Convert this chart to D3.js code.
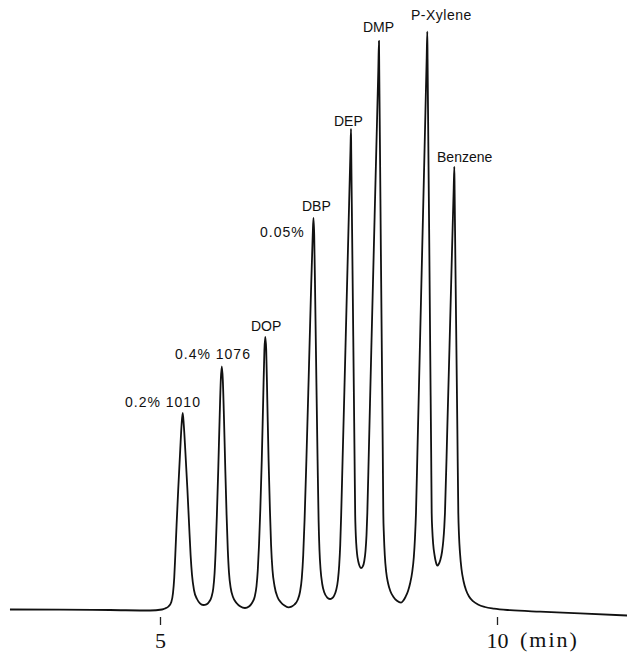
<!DOCTYPE html>
<html>
<head>
<meta charset="utf-8">
<script src="https://cdn.jsdelivr.net/npm/d3@7"></script>
<style>
  html, body { margin: 0; padding: 0; background: #fff; }
  svg { display: block; }
</style>
</head>
<body>
<svg id="chart"></svg>
<script>
// retention time (min) of the recorder trace, one row per stretch
const traceTime = [
  2.774, 3.516, 4.258, 4.852,                                                   // baseline
  5.030, 5.074, 5.126, 5.168, 5.193, 5.211, 5.227, 5.246, 5.270, 5.300, 5.320,  // 1010 up
  5.337, 5.353, 5.375, 5.407, 5.432, 5.454, 5.475, 5.504, 5.549, 5.593, 5.642,  // 1010 down
  5.690, 5.727, 5.764, 5.791, 5.810, 5.826, 5.844, 5.864, 5.884, 5.902,         // 1076 up
  5.917, 5.932, 5.950, 5.969, 5.988, 6.006, 6.024, 6.049, 6.083, 6.135, 6.194, 6.261,
  6.320, 6.365, 6.404, 6.432, 6.451, 6.469, 6.488, 6.510, 6.531, 6.549,         // DOP up
  6.562, 6.576, 6.592, 6.611, 6.631, 6.648, 6.669, 6.699, 6.743, 6.795, 6.847, 6.904,
  6.951, 6.996, 7.042, 7.077, 7.104, 7.125, 7.145, 7.172, 7.205, 7.237, 7.266,  // DBP up
  7.277, 7.288, 7.303, 7.320, 7.338, 7.353, 7.366, 7.383, 7.407, 7.438, 7.478, 7.522,
  7.552, 7.582, 7.614, 7.640, 7.659, 7.674, 7.688, 7.709, 7.736, 7.766, 7.796, 7.826, // DEP up
  7.834, 7.837, 7.850, 7.863, 7.876, 7.887, 7.896, 7.902, 7.911, 7.924, 7.942, 7.961, 7.982,
  8.009, 8.031, 8.049, 8.064, 8.076, 8.099, 8.135, 8.172, 8.209, 8.239,         // DMP up
  8.249, 8.253, 8.264, 8.277, 8.291, 8.305, 8.313, 8.322, 8.335, 8.356, 8.383, 8.420, 8.464, 8.516, 8.576,
  8.608, 8.642, 8.680, 8.712, 8.742, 8.766, 8.783, 8.798, 8.820, 8.855, 8.890, 8.925, 8.956, // P-Xylene up
  8.966, 8.970, 8.982, 8.996, 9.009, 9.023, 9.031, 9.040, 9.053, 9.073, 9.093, 9.114,
  9.136, 9.159, 9.184, 9.203, 9.218, 9.228, 9.262, 9.294, 9.325, 9.357,         // Benzene up
  9.367, 9.371, 9.384, 9.398, 9.412, 9.426, 9.436, 9.451, 9.473, 9.503, 9.540, 9.585,
  9.644, 9.718, 9.822, 9.955, 10.193, 10.638, 11.232, 11.929                    // tail
]
// detector response (arbitrary units) at each time above
const traceSignal = [
  0.5, 0.3, 0, -0.5,
  0.5, 1.5, 3.5, 8, 17, 32, 55, 85, 120, 160, 185,
  197, 185, 160, 120, 85, 55, 35, 20, 11, 6.7, 5,
  5.7, 8, 13, 22, 37, 60, 95, 140, 190, 230,
  243.5, 230, 190, 140, 95, 60, 37, 22, 13, 7, 3.4, 2,
  3.5, 7, 13, 24, 40, 65, 100, 150, 210, 260,
  273, 260, 210, 150, 100, 65, 40, 24, 13, 7.5, 4.4, 2.7,
  3.4, 5.5, 10, 18, 32, 55, 90, 150, 230, 310, 375,
  392, 375, 310, 230, 150, 90, 60, 40, 26, 17.5, 12.7, 11,
  11.7, 14.2, 20, 30, 45, 65, 95, 150, 220, 300, 380, 460,
  481, 460, 380, 300, 220, 150, 95, 80, 67, 56, 48.5, 44, 42,
  43.7, 49, 59, 75, 97, 160, 260, 360, 460, 540,
  569, 540, 460, 360, 260, 160, 97, 75, 55, 38, 27, 18.5, 13, 9.2, 7.3,
  9.2, 13, 19, 27, 38, 53, 72, 97, 160, 260, 360, 460, 550,
  578.3, 550, 460, 360, 260, 160, 97, 80, 66, 55, 48, 44.3,
  46, 50, 58, 69, 83, 97, 180, 260, 340, 420,
  443.3, 420, 340, 260, 180, 97, 75, 57, 41, 29, 20, 13.5,
  8.8, 5.5, 3, 1.4, -0.2, -1.7, -3.3, -5.5
]

// peak annotations
const peakLabels = ['0.2% 1010', '0.4% 1076', 'DOP', '0.05%', 'DBP', 'DEP', 'DMP', 'P-Xylene', 'Benzene']
const peakTimes = [5.337, 5.917, 6.562, 7.277, 7.277, 7.834, 8.249, 8.966, 9.367]
const peakHeights = [197, 243.5, 273, 392, 392, 481, 569, 578.3, 443.3]

const tickValues = [5, 10]
const timeUnit = '(min)'

const width = 627
const height = 652

const svg = d3.select('#chart')
  .attr('width', width)
  .attr('height', height)

svg.append('rect')
  .attr('width', width)
  .attr('height', height)
  .attr('fill', '#fff')

// 5 min sits at 160px, 10 min at 497px
const x = d3.scaleLinear().domain([5, 10]).range([160, 497])
const y = d3.scaleLinear().domain([0, 600]).range([610, 10])

const trace = traceTime.map((t, i) => ({ t: t, s: traceSignal[i] }))

const line = d3.line()
  .x(d => x(d.t))
  .y(d => y(d.s))
  .curve(d3.curveMonotoneX)

svg.append('path')
  .datum(trace)
  .attr('d', line)
  .attr('fill', 'none')
  .attr('stroke', '#111')
  .attr('stroke-width', 1.8)
  .attr('stroke-linejoin', 'round')

// time axis -- only the tick marks and numbers, the baseline is the trace itself
const axis = svg.append('g')
  .attr('transform', 'translate(0,617)')
  .call(d3.axisBottom(x).tickValues(tickValues).tickSize(8).tickFormat(d3.format('d')))

axis.select('.domain').remove()
axis.selectAll('.tick line').attr('stroke', '#222').attr('stroke-width', 1.3)
axis.selectAll('.tick text')
  .attr('y', 15)
  .attr('fill', '#111')
  .style('font-family', '"Liberation Serif", "DejaVu Serif", serif')
  .style('font-size', '22px')

svg.append('text')
  .attr('x', x(10) + 23)
  .attr('y', 647)
  .attr('fill', '#111')
  .style('font-family', '"Liberation Serif", "DejaVu Serif", serif')
  .style('font-size', '22px')
  .style('letter-spacing', '2px')
  .text(timeUnit)

// label offsets from each peak apex (dx, dy, letter spacing)
const labelOffsets = [
  [-57.7, -6.5, 1], [-46.8, -7.5, 1], [-14.3, -6.3, 0], [-53.5, 18.7, 1],
  [-11.5, -7.3, 0], [-17, -3.5, 0], [-16, -9.3, 0], [-16.3, -12.2, 0.5], [-17.3, -5.2, 0]
]

svg.selectAll('.peak-label')
  .data(peakLabels)
  .enter()
  .append('text')
  .attr('class', 'peak-label')
  .attr('x', (d, i) => x(peakTimes[i]) + labelOffsets[i][0])
  .attr('y', (d, i) => y(peakHeights[i]) + labelOffsets[i][1])
  .attr('fill', '#111')
  .style('font-family', '"Liberation Sans", Arial, sans-serif')
  .style('font-size', '14px')
  .style('letter-spacing', (d, i) => labelOffsets[i][2] + 'px')
  .text(d => d)
</script>
</body>
</html>
